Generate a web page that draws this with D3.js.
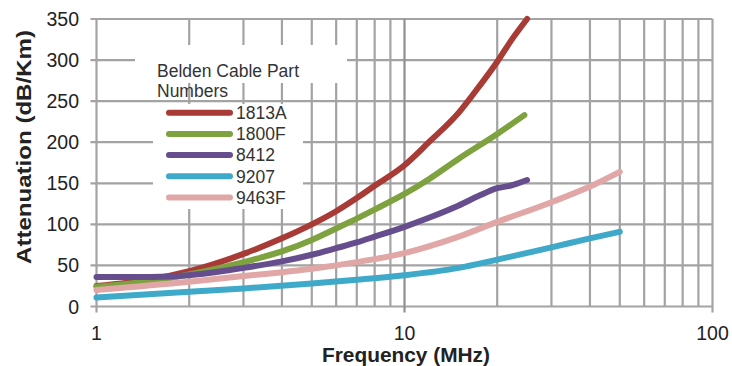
<!DOCTYPE html>
<html>
<head>
<meta charset="utf-8">
<script src="https://cdn.jsdelivr.net/npm/d3@7"></script>
<style>
  html, body { margin: 0; padding: 0; background: #fff; }
  svg { display: block; }
  text { font-family: "Liberation Sans", Arial, sans-serif; }
</style>
</head>
<body>
<svg id="chart" width="732" height="366"></svg>
<script>
// ---- Data ----
const seriesNames = ["1813A", "1800F", "8412", "9207", "9463F"];
const seriesColors = ["#A93B37", "#7EA23F", "#664D8E", "#3FA9C9", "#E1A7A7"];

const freq1813A = [1, 1.5, 2, 3, 4, 5, 6, 7, 8, 10, 12, 15, 17, 20, 22.5, 25];
const att1813A  = [25, 33, 43, 64, 83, 100, 116, 132, 147, 172, 200, 236, 262, 298, 327, 350];

const freq1800F = [1, 1.5, 2, 3, 4, 5, 6, 7, 8, 10, 12, 15, 20, 24.5];
const att1800F  = [24, 31, 39, 54, 67, 81, 95, 107, 118, 137, 155, 180, 210, 233];

const freq8412 = [1, 1.5, 2, 3, 4, 5, 6, 7, 8, 10, 12, 15, 17.5, 20, 22, 25];
const att8412  = [36, 36, 38, 47, 55, 63, 71, 78, 85, 97, 108, 123, 135, 144, 147, 154];

const freq9207 = [1, 2, 3, 5, 7, 10, 15, 20, 30, 40, 50];
const att9207  = [11, 18, 22, 28, 32.5, 38, 47, 57, 72, 83, 91];

const freq9463F = [1, 2, 3, 5, 7, 10, 15, 20, 30, 40, 50];
const att9463F  = [20, 30, 37, 46, 54, 65, 85, 103, 127, 146, 164];

const yTicks = [0, 50, 100, 150, 200, 250, 300, 350];
const xMajorTicks = [1, 10, 100];
const xMinorTicks = [2, 3, 4, 5, 6, 7, 8, 9, 20, 30, 40, 50, 60, 70, 80, 90];

const legendTitle = ["Belden Cable Part", "Numbers"];
const xTitle = "Frequency (MHz)";
const yTitle = "Attenuation (dB/Km)";

const seriesData = [
  [freq1813A, att1813A],
  [freq1800F, att1800F],
  [freq8412, att8412],
  [freq9207, att9207],
  [freq9463F, att9463F]
].map(([f, a], i) => ({
  name: seriesNames[i],
  color: seriesColors[i],
  points: f.map((d, j) => ({ f: d, v: a[j] }))
}));

// ---- Layout ----
const svg = d3.select("#chart");
const pLeft = 96.5, pRight = 712.5, pTop = 19, pBottom = 306.5;

const x = d3.scaleLog().domain([1, 100]).range([pLeft, pRight]);
const y = d3.scaleLinear().domain([0, 350]).range([pBottom, pTop]);

const gridColor = "#A3A3A3";

// Grid - horizontal
const grid = svg.append("g");
grid.selectAll(".hg").data(yTicks).enter().append("line")
  .attr("x1", pLeft - 6).attr("x2", pRight)
  .attr("y1", d => y(d)).attr("y2", d => y(d))
  .attr("stroke", gridColor).attr("stroke-width", 2.2);

// Grid - vertical minor
grid.selectAll(".vmin").data(xMinorTicks).enter().append("line")
  .attr("x1", d => x(d)).attr("x2", d => x(d))
  .attr("y1", pTop).attr("y2", pBottom)
  .attr("stroke", gridColor).attr("stroke-width", 2.2);

// Grid - vertical major
grid.selectAll(".vmaj").data(xMajorTicks).enter().append("line")
  .attr("x1", d => x(d)).attr("x2", d => x(d))
  .attr("y1", pTop).attr("y2", pBottom + 6)
  .attr("stroke", d => d === 10 ? "#8f8f8f" : gridColor).attr("stroke-width", 2.2);

// Legend background boxes (cover grid)
svg.append("rect").attr("x", 135).attr("y", 45).attr("width", 212).attr("height", 38).attr("fill", "#fff");
svg.append("rect").attr("x", 153).attr("y", 104).attr("width", 150).attr("height", 105).attr("fill", "#fff");

// Axis tick labels
svg.append("g").selectAll("text").data(yTicks).enter().append("text")
  .attr("x", 79).attr("y", d => y(d)).attr("dy", "0.36em")
  .attr("text-anchor", "end").attr("font-size", 19.5).attr("fill", "#222")
  .text(d => d);

svg.append("g").selectAll("text").data(xMajorTicks).enter().append("text")
  .attr("x", d => x(d)).attr("y", 340)
  .attr("text-anchor", "middle").attr("font-size", 19.5).attr("fill", "#222")
  .text(d => d);

// Axis titles
svg.append("text").attr("x", 406).attr("y", 362)
  .attr("text-anchor", "middle").attr("font-size", 20.5).attr("font-weight", "bold").attr("fill", "#222")
  .attr("textLength", 168).attr("lengthAdjust", "spacingAndGlyphs")
  .text(xTitle);

svg.append("text")
  .attr("transform", "translate(31,147) rotate(-90)")
  .attr("text-anchor", "middle").attr("font-size", 20.5).attr("font-weight", "bold").attr("fill", "#222")
  .attr("textLength", 234).attr("lengthAdjust", "spacingAndGlyphs")
  .text(yTitle);

// Curves
const line = d3.line().x(d => x(d.f)).y(d => y(d.v)).curve(d3.curveMonotoneX);
svg.append("g").selectAll("path").data(seriesData).enter().append("path")
  .attr("d", d => line(d.points))
  .attr("fill", "none").attr("stroke", d => d.color)
  .attr("stroke-width", 6).attr("stroke-linecap", "round").attr("stroke-linejoin", "round");

// Legend
svg.append("g").selectAll("text").data(legendTitle).enter().append("text")
  .attr("x", 157).attr("y", (d, i) => 77 + i * 19.5)
  .attr("font-size", 17.5).attr("fill", "#333")
  .text(d => d);

const leg = svg.append("g").selectAll("g").data(seriesData).enter().append("g")
  .attr("transform", (d, i) => `translate(0,${112.7 + i * 21.2})`);
leg.append("line").attr("x1", 169).attr("x2", 230).attr("y1", 0).attr("y2", 0)
  .attr("stroke", d => d.color).attr("stroke-width", 6).attr("stroke-linecap", "round");
leg.append("text").attr("x", 236).attr("y", 0).attr("dy", "0.36em")
  .attr("font-size", 17.5).attr("fill", "#333")
  .text(d => d.name);
</script>
</body>
</html>
